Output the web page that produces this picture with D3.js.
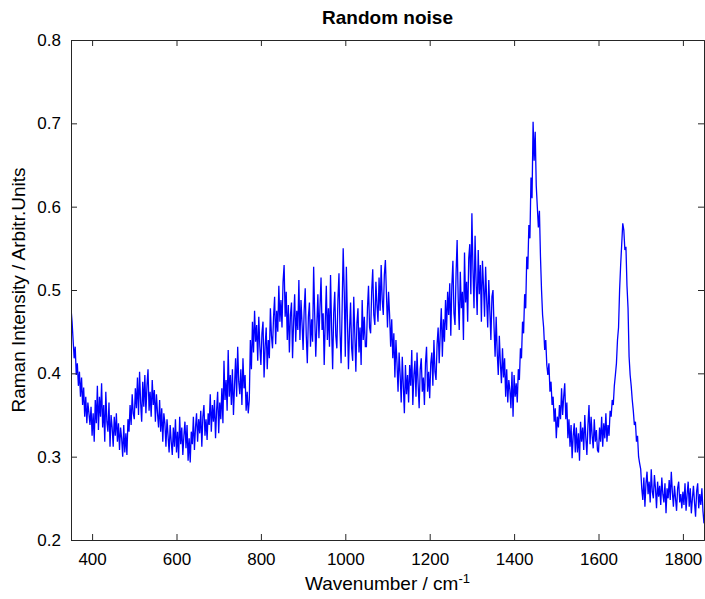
<!DOCTYPE html>
<html>
<head>
<meta charset="utf-8">
<script src="https://cdn.jsdelivr.net/npm/d3@7/dist/d3.min.js"></script>
<style>
  html, body { margin: 0; padding: 0; background: #fff; }
  svg { display: block; font-family: "Liberation Sans", Arial, sans-serif; }
</style>
</head>
<body>
<svg id="chart" width="705" height="599"></svg>
<script>
// Spectrum sampled every 2.5 cm^-1 from 350 to 1850 cm^-1
const wavenumberStart = 350;
const wavenumberStep = 2.5;
const intensity = [
  0.478, 0.462, 0.440, 0.418, 0.432, 0.398, 0.412, 0.385, 0.402, 0.372, 0.395, 0.362, 0.383, 0.348, 0.372, 0.340, 0.365, 0.352, 0.338, 0.360,
  0.325, 0.352, 0.318, 0.368, 0.340, 0.385, 0.332, 0.372, 0.348, 0.388, 0.335, 0.362, 0.318, 0.378, 0.342, 0.330, 0.365, 0.312, 0.350, 0.335,
  0.312, 0.348, 0.325, 0.352, 0.318, 0.340, 0.308, 0.335, 0.322, 0.300, 0.338, 0.305, 0.328, 0.302, 0.345, 0.330, 0.362, 0.338, 0.375, 0.352,
  0.345, 0.382, 0.358, 0.395, 0.350, 0.402, 0.365, 0.342, 0.390, 0.360, 0.398, 0.352, 0.385, 0.405, 0.355, 0.378, 0.348, 0.392, 0.362, 0.380,
  0.342, 0.375, 0.352, 0.335, 0.368, 0.330, 0.358, 0.318, 0.352, 0.340, 0.312, 0.345, 0.325, 0.305, 0.338, 0.318, 0.302, 0.335, 0.312, 0.345,
  0.305, 0.330, 0.298, 0.348, 0.315, 0.335, 0.302, 0.325, 0.342, 0.310, 0.338, 0.295, 0.322, 0.293, 0.330, 0.315, 0.348, 0.308, 0.335, 0.352,
  0.318, 0.345, 0.328, 0.355, 0.312, 0.348, 0.362, 0.325, 0.345, 0.320, 0.352, 0.338, 0.375, 0.330, 0.362, 0.342, 0.368, 0.322, 0.355, 0.378,
  0.328, 0.365, 0.345, 0.382, 0.340, 0.415, 0.368, 0.392, 0.355, 0.428, 0.372, 0.398, 0.362, 0.405, 0.350, 0.385, 0.418, 0.372, 0.432, 0.390,
  0.375, 0.405, 0.362, 0.418, 0.382, 0.398, 0.355, 0.378, 0.352, 0.368, 0.440, 0.405, 0.462, 0.425, 0.475, 0.438, 0.458, 0.415, 0.468, 0.432,
  0.410, 0.448, 0.462, 0.395, 0.432, 0.455, 0.405, 0.440, 0.418, 0.478, 0.445, 0.430, 0.468, 0.492, 0.435, 0.475, 0.450, 0.505, 0.462, 0.488,
  0.455, 0.510, 0.530, 0.468, 0.498, 0.440, 0.482, 0.425, 0.470, 0.485, 0.418, 0.462, 0.495, 0.438, 0.475, 0.452, 0.512, 0.440, 0.488, 0.460,
  0.428, 0.475, 0.502, 0.445, 0.412, 0.468, 0.485, 0.432, 0.465, 0.438, 0.528, 0.470, 0.420, 0.458, 0.495, 0.442, 0.480, 0.515, 0.452, 0.472,
  0.410, 0.462, 0.505, 0.440, 0.478, 0.432, 0.518, 0.455, 0.405, 0.472, 0.498, 0.445, 0.430, 0.488, 0.520, 0.450, 0.412, 0.478, 0.550, 0.498,
  0.420, 0.528, 0.465, 0.405, 0.452, 0.485, 0.430, 0.415, 0.492, 0.448, 0.402, 0.460, 0.478, 0.425, 0.455, 0.410, 0.488, 0.440, 0.468, 0.432,
  0.432, 0.478, 0.505, 0.455, 0.448, 0.498, 0.525, 0.470, 0.458, 0.510, 0.482, 0.462, 0.515, 0.475, 0.530, 0.488, 0.470, 0.518, 0.536, 0.495,
  0.455, 0.498, 0.470, 0.432, 0.465, 0.418, 0.448, 0.395, 0.440, 0.412, 0.378, 0.425, 0.398, 0.365, 0.420, 0.385, 0.352, 0.410, 0.375, 0.398,
  0.365, 0.410, 0.385, 0.428, 0.362, 0.398, 0.415, 0.372, 0.425, 0.388, 0.358, 0.405, 0.418, 0.378, 0.395, 0.362, 0.412, 0.432, 0.378, 0.402,
  0.370, 0.412, 0.425, 0.385, 0.440, 0.402, 0.392, 0.435, 0.455, 0.412, 0.448, 0.478, 0.420, 0.465, 0.438, 0.488, 0.452, 0.498, 0.470, 0.508,
  0.445, 0.505, 0.535, 0.472, 0.458, 0.520, 0.560, 0.490, 0.452, 0.522, 0.478, 0.498, 0.440, 0.545, 0.485, 0.510, 0.462, 0.538, 0.555, 0.495,
  0.592, 0.525, 0.478, 0.565, 0.510, 0.470, 0.548, 0.495, 0.530, 0.462, 0.535, 0.505, 0.468, 0.528, 0.488, 0.455, 0.512, 0.475, 0.440, 0.492,
  0.500, 0.455, 0.420, 0.468, 0.425, 0.398, 0.445, 0.412, 0.388, 0.430, 0.395, 0.418, 0.372, 0.405, 0.365, 0.392, 0.380, 0.358, 0.402, 0.348,
  0.398, 0.372, 0.388, 0.365, 0.405, 0.392, 0.430, 0.418, 0.462, 0.448, 0.495, 0.478, 0.540, 0.525, 0.578, 0.562, 0.635, 0.610, 0.702, 0.655,
  0.690, 0.625, 0.600, 0.575, 0.595, 0.540, 0.500, 0.470, 0.455, 0.428, 0.440, 0.410, 0.398, 0.412, 0.378, 0.390, 0.362, 0.372, 0.342, 0.358,
  0.322, 0.348, 0.335, 0.362, 0.345, 0.382, 0.350, 0.372, 0.388, 0.345, 0.365, 0.322, 0.345, 0.312, 0.338, 0.298, 0.325, 0.340, 0.305, 0.335,
  0.305, 0.328, 0.295, 0.342, 0.318, 0.335, 0.308, 0.350, 0.322, 0.302, 0.338, 0.362, 0.315, 0.348, 0.325, 0.310, 0.345, 0.318, 0.332, 0.308,
  0.305, 0.335, 0.318, 0.348, 0.312, 0.340, 0.322, 0.352, 0.318, 0.338, 0.325, 0.355, 0.348, 0.368, 0.362, 0.385, 0.398, 0.412, 0.440, 0.455,
  0.500, 0.530, 0.555, 0.580, 0.572, 0.548, 0.552, 0.505, 0.478, 0.420, 0.398, 0.385, 0.368, 0.355, 0.338, 0.342, 0.318, 0.325, 0.300, 0.292,
  0.285, 0.262, 0.248, 0.275, 0.240, 0.268, 0.282, 0.255, 0.270, 0.245, 0.285, 0.258, 0.250, 0.278, 0.262, 0.238, 0.270, 0.252, 0.265, 0.242,
  0.275, 0.255, 0.245, 0.268, 0.232, 0.262, 0.250, 0.272, 0.248, 0.282, 0.258, 0.240, 0.265, 0.250, 0.235, 0.262, 0.270, 0.245, 0.255, 0.238,
  0.258, 0.242, 0.268, 0.235, 0.255, 0.270, 0.240, 0.262, 0.232, 0.250, 0.265, 0.245, 0.228, 0.258, 0.268, 0.238, 0.255, 0.242, 0.262, 0.235,
  0.220
];
const xTicks = [400, 600, 800, 1000, 1200, 1400, 1600, 1800];
const yTicks = [0.2, 0.3, 0.4, 0.5, 0.6, 0.7, 0.8];

const spectrum = intensity.map((v, i) => ({ wn: wavenumberStart + i * wavenumberStep, v }));

const svg = d3.select("#chart");
const margin = { left: 71, right: 1, top: 40, bottom: 59 };
const W = 705, H = 599;

const x = d3.scaleLinear().domain([350, 1850]).range([margin.left, W - margin.right]);
const y = d3.scaleLinear().domain([0.2, 0.8]).range([H - margin.bottom, margin.top]);

const clipId = "plot-clip";
svg.append("defs").append("clipPath").attr("id", clipId)
  .append("rect")
  .attr("x", margin.left).attr("y", margin.top)
  .attr("width", W - margin.left - margin.right)
  .attr("height", H - margin.top - margin.bottom);

// spectrum trace
svg.append("path")
  .datum(spectrum)
  .attr("clip-path", `url(#${clipId})`)
  .attr("fill", "none")
  .attr("stroke", "#0000ff")
  .attr("stroke-width", 1.3)
  .attr("stroke-linejoin", "miter")
  .attr("d", d3.line().x(d => x(d.wn)).y(d => y(d.v)));

const axisColor = "#262626";
const tickFont = "17px";

// bottom axis with labels, ticks pointing inward
const gB = svg.append("g")
  .attr("transform", `translate(0,${H - margin.bottom})`)
  .call(d3.axisBottom(x).tickValues(xTicks).tickSize(-6).tickPadding(13).tickFormat(d3.format("d")));
// top axis, ticks only
const gT = svg.append("g")
  .attr("transform", `translate(0,${margin.top})`)
  .call(d3.axisTop(x).tickValues(xTicks).tickSize(-6).tickFormat(""));
// left axis with labels
const gL = svg.append("g")
  .attr("transform", `translate(${margin.left},0)`)
  .call(d3.axisLeft(y).tickValues(yTicks).tickSize(-6).tickPadding(10).tickFormat(d3.format(".1f")));
// right axis, ticks only
const gR = svg.append("g")
  .attr("transform", `translate(${W - margin.right},0)`)
  .call(d3.axisRight(y).tickValues(yTicks).tickSize(-6).tickFormat(""));

[gB, gT, gL, gR].forEach(g => {
  g.select(".domain").attr("stroke", axisColor).attr("stroke-width", 1);
  g.selectAll(".tick line").attr("stroke", axisColor);
  g.selectAll(".tick text")
    .attr("fill", "#000")
    .style("font-size", tickFont)
    .style("font-family", "'Liberation Sans', Arial, sans-serif");
});

// title
svg.append("text")
  .attr("x", (margin.left + W - margin.right) / 2)
  .attr("y", 24)
  .attr("text-anchor", "middle")
  .style("font-size", "19px")
  .style("font-weight", "bold")
  .text("Random noise");

// x axis label with superscript
const xl = svg.append("text")
  .attr("x", (margin.left + W - margin.right) / 2)
  .attr("y", 590)
  .attr("text-anchor", "middle")
  .style("font-size", "19px");
xl.append("tspan").text("Wavenumber / cm");
xl.append("tspan").attr("dy", -7).style("font-size", "13px").text("-1");

// y axis label
svg.append("text")
  .attr("transform", `translate(25,${(margin.top + H - margin.bottom) / 2}) rotate(-90)`)
  .attr("text-anchor", "middle")
  .style("font-size", "19px")
  .text("Raman Intensity / Arbitr.Units");
</script>
</body>
</html>
